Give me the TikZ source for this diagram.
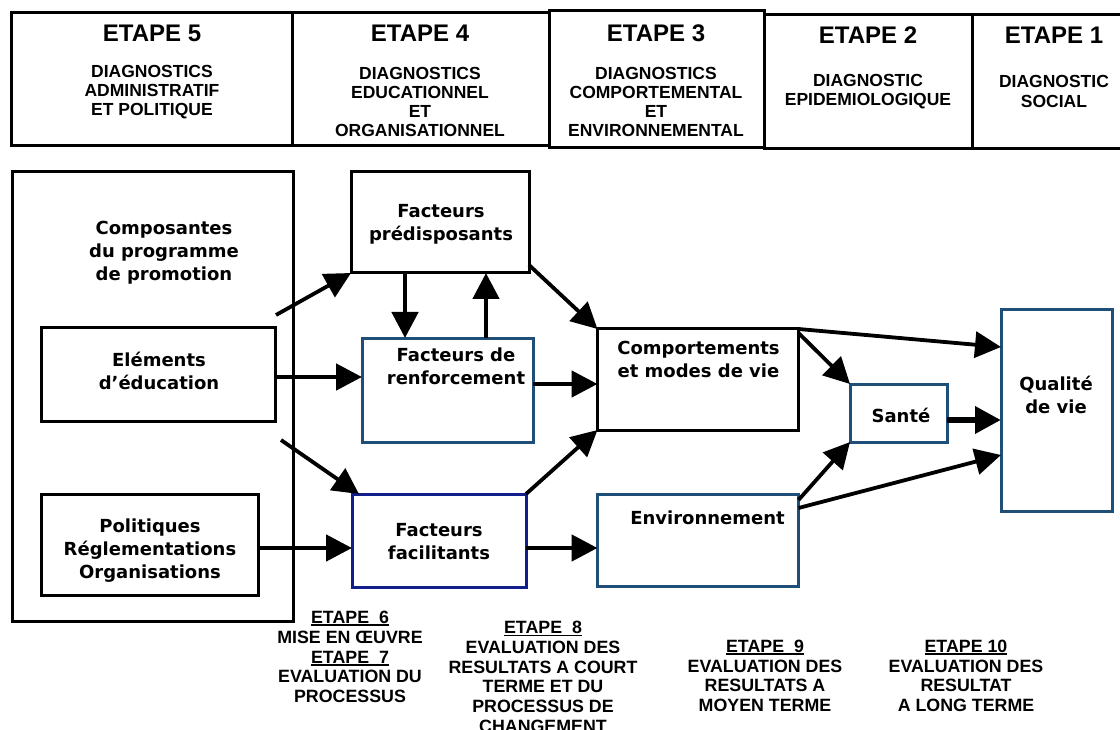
\documentclass[tikz,border=0pt]{standalone}
\usepackage{fontspec}
\setmainfont{Liberation Sans}
\newfontfamily\bodyfont{DejaVu Sans}
\usetikzlibrary{arrows.meta}

\definecolor{boxblue}{RGB}{31,78,121}
\definecolor{navyblue}{RGB}{18,30,140}

% underlined step title
\newcommand{\etapeul}[1]{\setbox0=\hbox{#1}\rlap{\rule[-2.5pt]{\wd0}{1.8pt}}\box0}

\tikzset{
	box/.style={draw, line width=3pt, inner sep=0pt, outer sep=0pt},
	bluebox/.style={box, draw=boxblue},
	head/.style={font=\bfseries\fontsize{24}{28}\selectfont, inner sep=0pt},
	sub/.style={font=\bfseries\fontsize{17.5}{19.3}\selectfont, align=center, inner sep=0pt},
	lbl/.style={font=\bodyfont\bfseries\fontsize{18}{23}\selectfont, align=center, inner sep=0pt},
	eval/.style={font=\bfseries\fontsize{17.8}{19.7}\selectfont, align=center, inner sep=0pt},
	flow/.style={-{Triangle[length=26pt,width=26pt]}, line width=4.8pt},
	slim/.style={flow, line width=3.8pt},
}

\begin{document}
\begin{tikzpicture}[x=1pt, y=-1pt]
	\useasboundingbox (0,0) rectangle (1120,730);
	
	% steps 5 to 1
	\node [box, minimum width=281, minimum height=133] (s5) at (151.5,79.5) {};
	\node [box, minimum width=257, minimum height=133] (s4) at (420.5,79.5) {};
	\node [box, minimum width=215, minimum height=137] (s3) at (656.5,79.5) {};
	\node [box, minimum width=208, minimum height=134] (s2) at (868,82) {};
	\node [box, minimum width=158, minimum height=134] (s1) at (1051,82) {};
	
	\node [head] (h5) at (152,33) {ETAPE 5};
	\node [sub] (d5) at (152,92) {DIAGNOSTICS\\ADMINISTRATIF\\ET POLITIQUE};
	\node [head] (h4) at (420,33) {ETAPE 4};
	\node [sub] (d4) at (420,102) {DIAGNOSTICS\\EDUCATIONNEL\\ET\\ORGANISATIONNEL};
	\node [head] (h3) at (656,33) {ETAPE 3};
	\node [sub] (d3) at (656,102) {DIAGNOSTICS\\COMPORTEMENTAL\\ET\\ENVIRONNEMENTAL};
	\node [head] (h2) at (868,35) {ETAPE 2};
	\node [sub] (d2) at (868,91.5) {DIAGNOSTIC\\EPIDEMIOLOGIQUE};
	\node [head] (h1) at (1054,35) {ETAPE 1};
	\node [sub] (d1) at (1054,91.5) {DIAGNOSTIC\\SOCIAL};
	
	% programme components
	\node [box, minimum width=281, minimum height=449] (comp) at (152.5,396.5) {};
	\node [lbl] (tcomp) at (164,253) {Composantes\\du programme\\de promotion};
	\node [box, minimum width=234, minimum height=93] (elem) at (158,374.5) {};
	\node [lbl] (telem) at (159,370.5) {Eléments\\d’éducation};
	\node [box, minimum width=217, minimum height=101] (pol) at (150,544.5) {};
	\node [lbl] (tpol) at (150,550.5) {Politiques\\Réglementations\\Organisations};
	
	% factors
	\node [box, minimum width=178, minimum height=101] (pred) at (440,222.5) {};
	\node [lbl] (tpred) at (441,224.5) {Facteurs\\prédisposants};
	\node [bluebox, minimum width=171, minimum height=104] (renf) at (447.5,390) {};
	\node [lbl] (trenf) at (456,366) {Facteurs de\\renforcement};
	\node [box, draw=navyblue, minimum width=174, minimum height=93] (facil) at (439,540.5) {};
	\node [lbl] (tfacil) at (439,542) {Facteurs\\facilitants};
	
	% behaviour, environment
	\node [box, minimum width=201, minimum height=101] (beh) at (698,379.5) {};
	\node [lbl] (tbeh) at (698.5,359.5) {Comportements\\et modes de vie};
	\node [bluebox, minimum width=201, minimum height=92] (env) at (698,540) {};
	\node [lbl] (tenv) at (707.5,518) {Environnement};
	
	% health, quality of life
	\node [bluebox, minimum width=97, minimum height=58] (sante) at (898.5,413) {};
	\node [lbl] (tsante) at (901,415) {Santé};
	\node [bluebox, minimum width=111, minimum height=201] (qual) at (1056.5,410.5) {};
	\node [lbl] (tqual) at (1056,395) {Qualité\\de vie};
	
	% free arrow tails
	\coordinate (c1) at (276,315);
	\coordinate (c2) at (281,440);
	
	% arrows
	\draw [slim] (c1) -- (pred.south west);
	\draw [flow] ([xshift=-35pt]pred.south) -- ([xshift=-35pt]pred.south |- renf.north);
	\draw [flow] ([xshift=38.5pt]renf.north) -- ([xshift=38.5pt]renf.north |- pred.south);
	\draw [flow] ([yshift=-2.5pt]elem.east) -- ([yshift=-2.5pt]elem.east -| renf.west);
	\draw [slim] (c2) -- ([xshift=7pt]facil.north west);
	\draw [flow] ([yshift=-3.5pt]pol.east) -- ([yshift=-3.5pt]pol.east -| facil.west);
	\draw [slim] ([yshift=8pt]pred.south east) -- (beh.north west);
	\draw [flow] ([yshift=-4.5pt]beh.west -| renf.east) -- ([yshift=-4.5pt]beh.west);
	\draw [slim] (facil.north east) -- (beh.south west);
	\draw [flow] ([yshift=-7.5pt]facil.east) -- ([yshift=-7.5pt]facil.east -| env.west);
	\draw [slim] (beh.north east) -- ([yshift=-37pt]qual.north west);
	\draw [slim] ([yshift=-4pt]beh.north east) -- (sante.north west);
	\draw [slim] ([yshift=-6pt]env.north east) -- (sante.south west);
	\draw [slim] ([yshift=-14pt]env.north east) -- ([yshift=56pt]qual.south west);
	\draw [flow, line width=6.5pt] ([yshift=-7pt]sante.east) -- ([yshift=-7pt]sante.east -| qual.west);
	
	% evaluation steps
	\node [eval] (e67) at (350,657) {\etapeul{ETAPE\ \ 6}\\MISE EN ŒUVRE\\\etapeul{ETAPE\ \ 7}\\EVALUATION DU\\PROCESSUS};
	\node [eval] (e8) at (543,677) {\etapeul{ETAPE\ \ 8}\\EVALUATION DES\\RESULTATS A COURT\\TERME ET DU\\PROCESSUS DE\\CHANGEMENT};
	\node [eval] (e9) at (765,676) {\etapeul{ETAPE\ \ 9}\\EVALUATION DES\\RESULTATS A\\MOYEN TERME};
	\node [eval] (e10) at (966,676) {\etapeul{ETAPE 10}\\EVALUATION DES\\RESULTAT\\A LONG TERME};
	
\end{tikzpicture}
\end{document}
